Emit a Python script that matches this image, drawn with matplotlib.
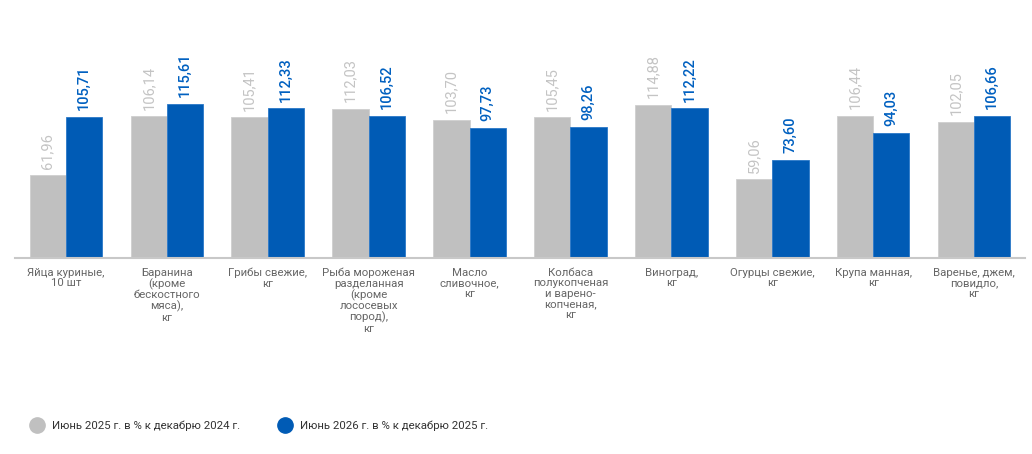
import numpy as np
import matplotlib.pyplot as plt
from matplotlib.lines import Line2D

plt.rcParams['font.family'] = ['Roboto', 'DejaVu Sans']

categories = [
    'Яйца куриные,\n10 шт',
    'Баранина\n(кроме\nбескостного\nмяса),\nкг',
    'Грибы свежие,\nкг',
    'Рыба мороженая\nразделанная\n(кроме\nлососевых\nпород),\nкг',
    'Масло\nсливочное,\nкг',
    'Колбаса\nполукопченая\nи варено-\nкопченая,\nкг',
    'Виноград,\nкг',
    'Огурцы свежие,\nкг',
    'Крупа манная,\nкг',
    'Варенье, джем,\nповидло,\nкг',
]
june_2025 = [61.96, 106.14, 105.41, 112.03, 103.70, 105.45, 114.88, 59.06, 106.44, 102.05]
june_2026 = [105.71, 115.61, 112.33, 106.52, 97.73, 98.26, 112.22, 73.60, 94.03, 106.66]
legend_labels = ['Июнь 2025 г. в % к декабрю 2024 г.', 'Июнь 2026 г. в % к декабрю 2025 г.']

gray = '#c0c0c0'
blue = '#005bb5'

fig = plt.figure(figsize=(10.32, 4.54), dpi=100)
ax = fig.add_axes([15 / 1032, 196 / 454, 1010 / 1032, 258 / 454])

x = np.arange(len(categories))
w = 0.36
ax.bar(x - w / 2, june_2025, w, color=gray, edgecolor='#cfcfcf', linewidth=0.6)
ax.bar(x + w / 2, june_2026, w, color=blue, edgecolor='#2a78c8', linewidth=0.6)

for xi, v in zip(x, june_2025):
    ax.text(xi - w / 2, v + 5, f'{v:.2f}'.replace('.', ','), rotation=90,
            ha='center', va='bottom', fontsize=10.5, color='#c4c4c4')
for xi, v in zip(x, june_2026):
    ax.text(xi + w / 2, v + 5, f'{v:.2f}'.replace('.', ','), rotation=90,
            ha='center', va='bottom', fontsize=10.5, color='#0060c0', fontweight='medium')

for xi, lab in zip(x, categories):
    ax.text(xi, -7.5, lab, ha='center', va='top', fontsize=8.2, color='#666666',
            linespacing=1.05)

ax.set_xlim(-0.505, 9.505)
ax.set_ylim(0, 193.5)
ax.axhline(0, color='#c8c8c8', linewidth=1.5, clip_on=False)
ax.axis('off')

handles = [Line2D([], [], marker='o', linestyle='', markersize=11, color=gray),
           Line2D([], [], marker='o', linestyle='', markersize=11, color=blue)]
fig.legend(handles, legend_labels, loc='center left', bbox_to_anchor=(26 / 1032, 1 - 426 / 454),
           ncol=2, frameon=False, fontsize=8.2, handletextpad=0.25, columnspacing=3.0,
           labelcolor='#333333', borderaxespad=0, borderpad=0)

fig.savefig('out.png', dpi=100)
